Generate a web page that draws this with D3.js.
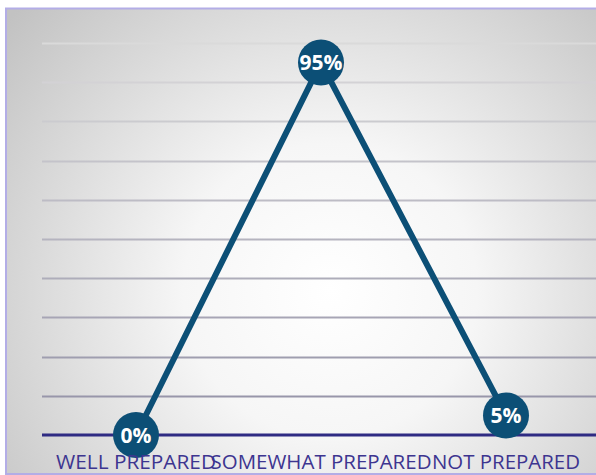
<!DOCTYPE html>
<html><head><meta charset="utf-8">
<script src="https://cdn.jsdelivr.net/npm/d3@7"></script>
<style>html,body{margin:0;padding:0;background:#fff;overflow:hidden}</style>
</head><body>
<svg id="chart" width="596" height="475"></svg>
<script>
const categories = ["WELL PREPARED", "SOMEWHAT PREPARED", "NOT PREPARED"];
const values = [0, 95, 5];
const valueLabels = ["0%", "95%", "5%"];
const yTicks = [10, 20, 30, 40, 50, 60, 70, 80, 90, 100];

const svg = d3.select("#chart");
const W = 596, H = 475;
const defs = svg.append("defs");
const rg = defs.append("radialGradient").attr("id", "bg")
  .attr("gradientUnits", "userSpaceOnUse")
  .attr("cx", 330).attr("cy", 290).attr("r", 420);
rg.append("stop").attr("offset", "0%").attr("stop-color", "#ffffff");
rg.append("stop").attr("offset", "35%").attr("stop-color", "#f6f6f6");
rg.append("stop").attr("offset", "100%").attr("stop-color", "#c2c2c2");

svg.append("rect").attr("x", 6).attr("y", 8.5).attr("width", W).attr("height", H - 9.5)
  .attr("fill", "url(#bg)").attr("stroke", "#b3ade6").attr("stroke-width", 2);

const x = d3.scalePoint().domain(categories).range([136, 506]);
const y = d3.scaleLinear().domain([0, 100]).range([435, 43]);
const gridColor = d3.scaleLinear().domain([100, 10]).range(["#dadada", "#9896aa"]);

svg.append("g").selectAll("line").data(yTicks).join("line")
  .attr("x1", 42).attr("x2", W).attr("y1", d => Math.round(y(d)) + 0.5).attr("y2", d => Math.round(y(d)) + 0.5)
  .attr("stroke", d => gridColor(d)).attr("stroke-width", 2);

svg.append("line").attr("x1", 42).attr("x2", W).attr("y1", y(0)).attr("y2", y(0))
  .attr("stroke", "#2f2b83").attr("stroke-width", 3);

const pts = categories.map((c, i) => ({c, v: values[i], l: valueLabels[i]}));
svg.append("path").datum(pts)
  .attr("d", d3.line().x(d => x(d.c)).y(d => y(d.v)))
  .attr("fill", "none").attr("stroke", "#0c4f76").attr("stroke-width", 6).attr("stroke-linejoin", "miter");

const g = svg.append("g").selectAll("g").data(pts).join("g")
  .attr("transform", d => `translate(${x(d.c)},${y(d.v)})`);
g.append("circle").attr("r", 23).attr("fill", "#0c4f76");
g.append("text").text(d => d.l).attr("text-anchor", "middle").attr("dy", "0.36em")
  .attr("fill", "#fff").attr("font-family", "'Open Sans', sans-serif").attr("font-weight", 700)
  .attr("font-size", 21);

const labelWidths = [160, 221, 148];
svg.append("g").selectAll("text").data(categories).join("text")
  .attr("x", d => x(d)).attr("y", 469).attr("text-anchor", "middle")
  .attr("fill", "#3d3590").attr("font-family", "'Open Sans', sans-serif").attr("font-size", 20)
  .attr("textLength", (d, i) => labelWidths[i]).attr("lengthAdjust", "spacingAndGlyphs")
  .text(d => d);
</script>
</body></html>
